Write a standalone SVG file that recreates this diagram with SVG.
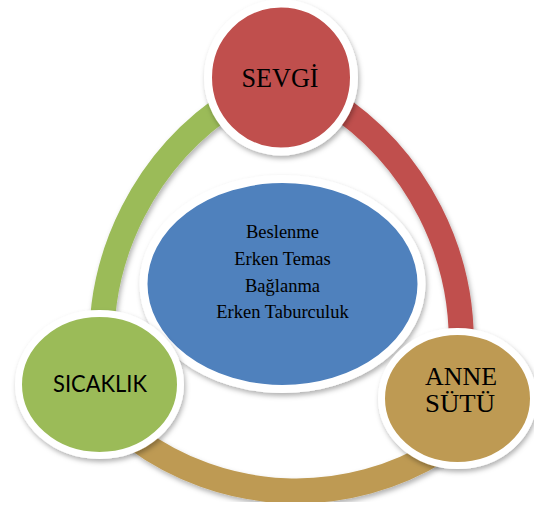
<svg xmlns="http://www.w3.org/2000/svg" width="534" height="508" viewBox="0 0 534 508">
  <defs>
    <filter id="shadow" x="-20%" y="-20%" width="140%" height="140%">
      <feDropShadow dx="1.5" dy="3" stdDeviation="2.5" flood-color="#000" flood-opacity="0.3"/>
    </filter>
  </defs>
  <style>
    .arc { fill: none; stroke-width: 25; stroke-linecap: butt; filter: url(#shadow); }
    .node { stroke: #ffffff; filter: url(#shadow); }
    .serif { font-family: "Liberation Serif", "Times New Roman", serif; fill: #000; text-anchor: middle; }
    .sans { font-family: "Lato", "Liberation Sans", sans-serif; fill: #000; text-anchor: middle; }
  </style>
  <rect width="534" height="508" fill="#ffffff"/>

  <g id="connectors">
    <path class="arc" stroke="#9BBB59" d="M 234.6 100 A 287 287 0 0 0 102.3 360"/>
    <path class="arc" stroke="#C0504D" d="M 328.4 100 A 287 287 0 0 1 460.7 360"/>
    <path class="arc" stroke="#BE9A52" d="M 135 438 A 272 272 0 0 0 440 449.8"/>
  </g>

  <g id="center">
    <ellipse class="node" cx="282.5" cy="284" rx="139" ry="105" fill="#4F81BD" stroke-width="8"/>
    <text class="serif" font-size="18.5" x="282.5" y="238">Beslenme</text>
    <text class="serif" font-size="18.5" x="282.5" y="265">Erken Temas</text>
    <text class="serif" font-size="18.5" x="282.5" y="292">Bağlanma</text>
    <text class="serif" font-size="18.5" x="282.5" y="318">Erken Taburculuk</text>
  </g>

  <g id="sevgi">
    <ellipse class="node" cx="281" cy="77.5" rx="73" ry="74" fill="#C0504D" stroke-width="8"/>
    <text class="serif" font-size="26.5" x="280" y="87" textLength="77" lengthAdjust="spacingAndGlyphs">SEVGİ</text>
  </g>

  <g id="sicaklik">
    <ellipse class="node" cx="99.5" cy="384.5" rx="81" ry="71" fill="#9BBB59" stroke-width="7"/>
    <text class="sans" font-size="24" x="100" y="392" textLength="94" lengthAdjust="spacingAndGlyphs">SICAKLIK</text>
  </g>

  <g id="anne-sutu">
    <ellipse class="node" cx="457.5" cy="398.5" rx="76" ry="67" fill="#BE9A52" stroke-width="7"/>
    <text class="serif" font-size="25" x="461" y="385" textLength="72" lengthAdjust="spacingAndGlyphs">ANNE</text>
    <text class="serif" font-size="25" x="460" y="412" textLength="70" lengthAdjust="spacingAndGlyphs">SÜTÜ</text>
  </g>
</svg>
